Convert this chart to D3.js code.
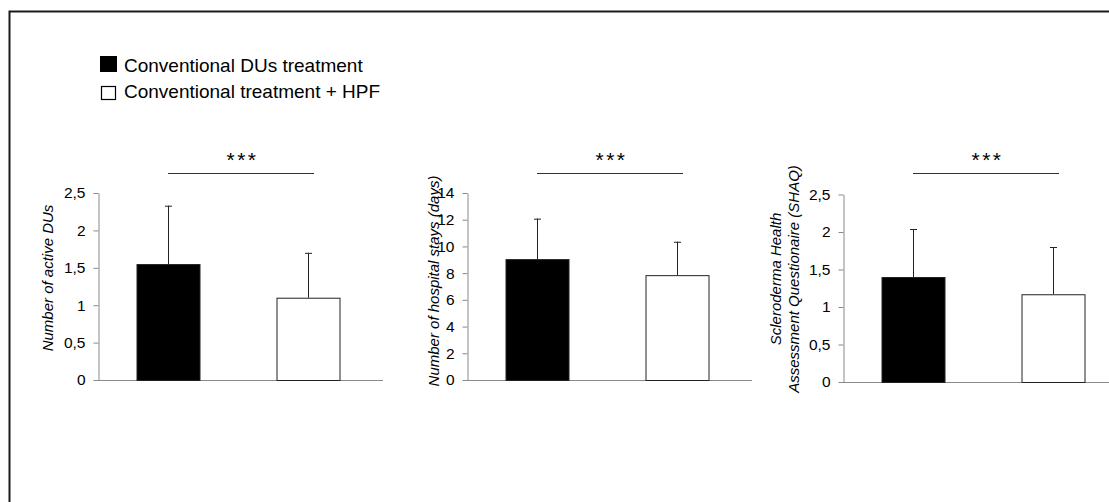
<!DOCTYPE html>
<html lang="en">
<head>
    <meta charset="UTF-8">
    <title>Conventional treatment vs HPF</title>
    <script src="https://d3js.org/d3.v7.min.js"></script>
    <style>
        body { margin: 0; background: #fff; }
        text { font-family: "Liberation Sans", Arial, sans-serif; }
    </style>
</head>
<body>
    <div id="chart"></div>

    <script>
        // Data
        const groups = ["Conventional DUs treatment", "Conventional treatment + HPF"];
        const groupFills = ["#000000", "#ffffff"];

        const panelTitles = [
            ["Number of active DUs"],
            ["Number of hospital stays (days)"],
            ["Scleroderma Health", "Assessment Questionaire (SHAQ)"]
        ];
        const activeDUsMean = [1.55, 1.1];
        const activeDUsSD = [0.78, 0.6];
        const hospitalStaysMean = [9.05, 7.85];
        const hospitalStaysSD = [3.03, 2.5];
        const shaqMean = [1.4, 1.17];
        const shaqSD = [0.64, 0.63];

        const activeDUsTicks = [0, 0.5, 1, 1.5, 2, 2.5];
        const hospitalTicks = [0, 2, 4, 6, 8, 10, 12, 14];
        const shaqTicks = [0, 0.5, 1, 1.5, 2, 2.5];
        const significance = ["***", "***", "***"];

        const W = 1109, H = 502;

        const svg = d3.select("#chart")
            .append("svg")
            .attr("width", W)
            .attr("height", H);

        // outer frame (only left and top edges are visible)
        svg.append("rect")
            .attr("x", 9.5).attr("y", 11.5)
            .attr("width", W + 20).attr("height", H + 20)
            .attr("fill", "none")
            .attr("stroke", "#1a1a1a")
            .attr("stroke-width", 2);

        // legend
        const legend = svg.append("g").attr("transform", "translate(100,56)");
        legend.append("rect")
            .attr("x", 0).attr("y", 0).attr("width", 17).attr("height", 16)
            .attr("fill", groupFills[0]);
        legend.append("rect")
            .attr("x", 1.5).attr("y", 30.5).attr("width", 14).attr("height", 13)
            .attr("fill", groupFills[1]).attr("stroke", "#000").attr("stroke-width", 1.2);
        legend.selectAll("text.leg")
            .data(groups)
            .enter().append("text")
            .attr("class", "leg")
            .attr("x", 24)
            .attr("y", (d, i) => 16 + i * 26)
            .style("font-size", "19px")
            .attr("fill", "#000")
            .text(d => d);

        const panels = [
            { mean: activeDUsMean, sd: activeDUsSD, ticks: activeDUsTicks, max: 2.5,
              x0: 98, top: 193, bottom: 380, labelX: 48, labelY: 278 },
            { mean: hospitalStaysMean, sd: hospitalStaysSD, ticks: hospitalTicks, max: 14,
              x0: 467, top: 193, bottom: 380, labelX: 434, labelY: 281 },
            { mean: shaqMean, sd: shaqSD, ticks: shaqTicks, max: 2.5,
              x0: 843, top: 194.5, bottom: 382, labelX: 785, labelY: 279 }
        ];

        const fmt = d => String(d).replace(".", ",");
        const axisColor = "#8a8a8a";

        panels.forEach((p, k) => {
            const g = svg.append("g");

            const x = d3.scaleBand()
                .domain(groups)
                .range([p.x0, p.x0 + 280])
                .paddingInner(0.55)
                .paddingOuter(0.275);

            const y = d3.scaleLinear()
                .domain([0, p.max])
                .range([p.bottom, p.top]);

            // y axis
            const yAxis = g.append("g")
                .attr("transform", `translate(${p.x0 + 0.5},0)`)
                .call(d3.axisLeft(y).tickValues(p.ticks).tickFormat(fmt).tickSize(5).tickSizeOuter(0).tickPadding(8));
            yAxis.attr("font-size", null).attr("font-family", null);
            yAxis.select(".domain").attr("stroke", axisColor);
            yAxis.selectAll(".tick line").attr("stroke", axisColor);
            yAxis.selectAll(".tick text")
                .style("font-size", "15.5px")
                .attr("fill", "#000");

            // baseline
            g.append("line")
                .attr("x1", p.x0).attr("x2", p.x0 + 285)
                .attr("y1", y(0) + 0.5).attr("y2", y(0) + 0.5)
                .attr("stroke", axisColor);

            const rows = groups.map((name, i) => ({ name, mean: p.mean[i], sd: p.sd[i], fill: groupFills[i] }));

            // error bars (upper only)
            const err = g.selectAll(".err")
                .data(rows)
                .enter().append("g")
                .attr("class", "err");
            err.append("line")
                .attr("x1", d => x(d.name) + x.bandwidth() / 2 + 0.5)
                .attr("x2", d => x(d.name) + x.bandwidth() / 2 + 0.5)
                .attr("y1", d => y(d.mean))
                .attr("y2", d => y(d.mean + d.sd))
                .attr("stroke", "#222");
            err.append("line")
                .attr("x1", d => x(d.name) + x.bandwidth() / 2 - 3)
                .attr("x2", d => x(d.name) + x.bandwidth() / 2 + 4)
                .attr("y1", d => y(d.mean + d.sd) + 0.5)
                .attr("y2", d => y(d.mean + d.sd) + 0.5)
                .attr("stroke", "#222");

            // bars
            g.selectAll(".bar")
                .data(rows)
                .enter().append("rect")
                .attr("class", "bar")
                .attr("x", d => x(d.name) + 0.5)
                .attr("y", d => y(d.mean) + 0.5)
                .attr("width", x.bandwidth())
                .attr("height", d => y(0) - y(d.mean))
                .attr("fill", d => d.fill)
                .attr("stroke", "#222")
                .attr("stroke-width", 1);

            // significance bracket
            const sx1 = x(groups[0]) + x.bandwidth() / 2;
            const sx2 = x(groups[1]) + x.bandwidth() / 2 + 6;
            g.append("line")
                .attr("x1", sx1).attr("x2", sx2)
                .attr("y1", 173.5).attr("y2", 173.5)
                .attr("stroke", "#333");
            g.append("text")
                .attr("x", (sx1 + sx2) / 2 + 1.5)
                .attr("y", 167)
                .attr("text-anchor", "middle")
                .style("font-size", "21px")
                .style("letter-spacing", "2.5px")
                .attr("fill", "#000")
                .text(significance[k]);

            // y label
            const lines = panelTitles[k];
            const lab = g.append("text")
                .attr("transform", `translate(${p.labelX},${p.labelY}) rotate(-90)`)
                .attr("text-anchor", "middle")
                .style("font-size", "15px")
                .attr("font-style", "italic")
                .attr("fill", "#000");
            lines.forEach((t, i) => {
                lab.append("tspan")
                    .attr("x", 0)
                    .attr("dy", i === 0 ? (-(lines.length - 1) * 18 / 2 + 5) : 18)
                    .text(t);
            });
        });
    </script>
</body>
</html>
